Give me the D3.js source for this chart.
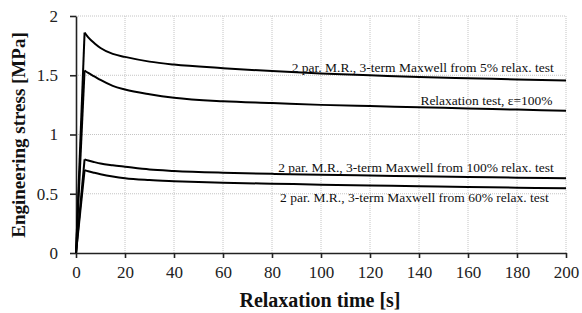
<!DOCTYPE html>
<html lang="en">
<head>
<meta charset="UTF-8">
<title>Relaxation curves</title>
<script src="https://d3js.org/d3.v7.min.js"></script>
<style>
    body { margin: 0; background: #fff; }
    svg { display: block; font-family: "Liberation Serif", "Times New Roman", serif; }
    .grid line { stroke: #c4c4c4; stroke-width: 1px; stroke-dasharray: 1,1; }
    .axis path, .axis line { stroke: #222; stroke-width: 1.6px; }
    .axis text { fill: #222; }
    .curve { fill: none; stroke: #000; stroke-width: 2px; stroke-linejoin: miter; }
    .curve-label { font-size: 13.5px; fill: #111; }
    .axis-title { font-weight: bold; fill: #111; }
</style>
</head>
<body>
<svg id="chart" width="582" height="313"></svg>
<script>
    // time points (s)
    const times = [0, 3.5, 5, 7.5, 10, 15, 20, 30, 40, 60, 80, 100, 120, 140, 160, 180, 200];

    // stress values (MPa)
    const fit5 =      [0, 1.86, 1.82, 1.77, 1.73, 1.68, 1.655, 1.615, 1.59, 1.56, 1.535, 1.515, 1.50, 1.485, 1.475, 1.465, 1.455];
    const relaxTest = [0, 1.54, 1.52, 1.49, 1.46, 1.41, 1.38, 1.34, 1.31, 1.28, 1.265, 1.25, 1.24, 1.23, 1.22, 1.21, 1.20];
    const fit100 =    [0, 0.79, 0.78, 0.767, 0.755, 0.74, 0.728, 0.705, 0.693, 0.678, 0.668, 0.66, 0.654, 0.647, 0.641, 0.636, 0.63];
    const fit60 =     [0, 0.70, 0.69, 0.677, 0.665, 0.645, 0.63, 0.615, 0.606, 0.593, 0.585, 0.577, 0.57, 0.563, 0.557, 0.551, 0.546];

    const seriesLabels = [
        "2 par. M.R., 3-term Maxwell from 5% relax. test",
        "Relaxation test, \u03b5=100%",
        "2 par. M.R., 3-term Maxwell from 100% relax. test",
        "2 par. M.R., 3-term Maxwell from 60% relax. test"
    ];

    const xTicks = d3.range(0, 201, 20);
    const yTicks = [0, 0.5, 1, 1.5, 2];

    const svg = d3.select("#chart");
    const plotLeft = 76, plotRight = 566, plotTop = 16, plotBottom = 253;
    const serif = "'Liberation Serif', 'Times New Roman', serif";

    const x = d3.scaleLinear().domain([0, 200]).range([plotLeft, plotRight]);
    const y = d3.scaleLinear().domain([0, 2]).range([plotBottom, plotTop]);

    // grid
    const grid = svg.append("g").attr("class", "grid");
    grid.selectAll(".gx").data(xTicks.slice(1)).enter().append("line")
        .attr("x1", d => x(d)).attr("x2", d => x(d))
        .attr("y1", y(0)).attr("y2", y(2));
    grid.selectAll(".gy").data(yTicks.slice(1)).enter().append("line")
        .attr("x1", x(0)).attr("x2", x(200))
        .attr("y1", d => y(d)).attr("y2", d => y(d));

    // axes
    svg.append("g").attr("class", "axis")
        .attr("transform", `translate(0,${plotBottom})`)
        .call(d3.axisBottom(x).tickValues(xTicks).tickSize(5).tickSizeOuter(0).tickPadding(8))
        .attr("font-family", serif).attr("font-size", 17);

    svg.append("g").attr("class", "axis")
        .attr("transform", `translate(${plotLeft},0)`)
        .call(d3.axisLeft(y).tickValues(yTicks).tickSize(6).tickSizeOuter(0).tickPadding(12)
            .tickFormat(d3.format("")))
        .attr("font-family", serif).attr("font-size", 17);

    // curves: straight loading ramp, then smooth relaxation
    const series = [fit5, relaxTest, fit100, fit60];
    const line = d3.line().x(d => x(d[0])).y(d => y(d[1]));
    const decay = d3.line().x(d => x(d[0])).y(d => y(d[1])).curve(d3.curveMonotoneX);

    series.forEach(function (vals) {
        const pts = times.map((t, k) => [t, vals[k]]);
        svg.append("path").attr("class", "curve").attr("d", line(pts.slice(0, 2)));
        svg.append("path").attr("class", "curve").attr("d", decay(pts.slice(1)));
    });

    // curve labels
    const labelEnd = [195, 194.5, 195, 193];
    const labelOffset = [-8.5, -6, -6, 14];
    series.forEach(function (vals, i) {
        svg.append("text").attr("class", "curve-label")
            .attr("x", x(labelEnd[i]))
            .attr("y", y(vals[vals.length - 1]) + labelOffset[i])
            .attr("text-anchor", "end")
            .text(seriesLabels[i]);
    });

    // axis titles
    svg.append("text").attr("class", "axis-title")
        .attr("x", 320).attr("y", 307)
        .attr("text-anchor", "middle")
        .style("font-size", "20px")
        .text("Relaxation time [s]");

    svg.append("text").attr("class", "axis-title")
        .attr("transform", "translate(25,135) rotate(-90)")
        .attr("text-anchor", "middle")
        .style("font-size", "19px")
        .text("Engineering stress [MPa]");
</script>
</body>
</html>
